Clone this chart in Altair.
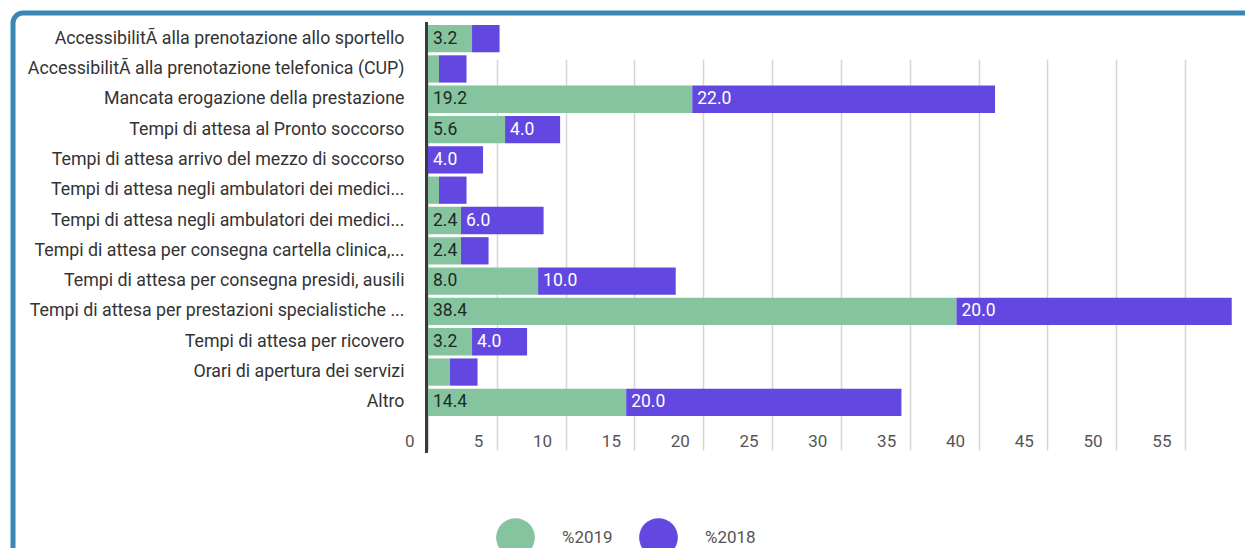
import altair as alt
import pandas as pd

categories = [
    "AccessibilitÃ alla prenotazione allo sportello",
    "AccessibilitÃ alla prenotazione telefonica (CUP)",
    "Mancata erogazione della prestazione",
    "Tempi di attesa al Pronto soccorso",
    "Tempi di attesa arrivo del mezzo di soccorso",
    "Tempi di attesa negli ambulatori dei medici...",
    "Tempi di attesa negli ambulatori dei medici... ",
    "Tempi di attesa per consegna cartella clinica,...",
    "Tempi di attesa per consegna presidi, ausili",
    "Tempi di attesa per prestazioni specialistiche ...",
    "Tempi di attesa per ricovero",
    "Orari di apertura dei servizi",
    "Altro",
]
pct_2019 = [3.2, 0.8, 19.2, 5.6, 0.0, 0.8, 2.4, 2.4, 8.0, 38.4, 3.2, 1.6, 14.4]
pct_2018 = [2.0, 2.0, 22.0, 4.0, 4.0, 2.0, 6.0, 2.0, 10.0, 20.0, 4.0, 2.0, 20.0]
series_names = ["%2019", "%2018"]
series_colors = ["#86c4a0", "#6248e0"]
x_ticks = [0, 5, 10, 15, 20, 25, 30, 35, 40, 45, 50, 55]
baseline_value = [0]

rows = []
for c, a, b in zip(categories, pct_2019, pct_2018):
    rows.append({"cat": c, "series": series_names[0], "value": a, "start": 0.0, "end": a})
    rows.append({"cat": c, "series": series_names[1], "value": b, "start": a, "end": a + b})
df = pd.DataFrame(rows)
df["label"] = df["value"].map(lambda v: f"{v:.1f}")

W, H = 812, 431
FONT = "Roboto"
yscale = alt.Scale(domain=categories, range=[3, 394], paddingInner=0.1, paddingOuter=0)
xscale = alt.Scale(domain=[0, 59], nice=False)

bars = alt.Chart(df).mark_bar().encode(
    y=alt.Y("cat:N", scale=yscale, title=None,
            axis=alt.Axis(domain=False, ticks=False, labelPadding=24, labelLimit=420,
                          labelFontSize=17.8, labelColor="#333333", labelFont=FONT)),
    x=alt.X("start:Q", scale=xscale, title=None,
            axis=alt.Axis(values=x_ticks, domain=False, ticks=False, tickSize=0, offset=-12,
                          labelAlign="right", labelOffset=-14, labelBaseline="middle", labelPadding=0,
                          labelFontSize=17, labelColor="#555555", labelFont=FONT,
                          gridColor="#d6d6d6", gridWidth=1.5)),
    x2="end:Q",
    color=alt.Color("series:N", title=None,
                    scale=alt.Scale(domain=series_names, range=series_colors),
                    legend=alt.Legend(orient="none", legendX=68, legendY=496, direction="horizontal",
                                      symbolType="circle", symbolSize=1500, symbolStrokeWidth=0,
                                      symbolOpacity=1, labelFontSize=17, labelColor="#555555",
                                      labelFont=FONT, labelOffset=27, columnPadding=26)),
)

labels = alt.Chart(df).transform_filter("datum.value >= 2.2").mark_text(
    align="left", baseline="middle", dx=5, fontSize=17.5, font=FONT
).encode(
    y=alt.Y("cat:N", scale=yscale),
    x=alt.X("start:Q", scale=xscale),
    text="label:N",
    color=alt.condition("datum.series === '%2019'", alt.value("#1c2a22"), alt.value("#ffffff")),
)

zero_line = alt.Chart(pd.DataFrame({"v": baseline_value})).mark_rule(
    color="#3a3a3a", strokeWidth=3, xOffset=-1.5
).encode(
    x=alt.X("v:Q", scale=xscale), y=alt.value(0), y2=alt.value(H)
)

frame = alt.Chart(pd.DataFrame({"k": [0]})).mark_rect(
    fillOpacity=0, stroke="#3b87b4", strokeWidth=5, cornerRadius=10
).encode(
    x=alt.value(-415), x2=alt.value(W + 40), y=alt.value(-9), y2=alt.value(H + 200)
)

chart = alt.layer(bars, labels, zero_line, frame).properties(
    width=W, height=H,
    autosize=alt.AutoSizeParams(type="none"),
    padding={"left": 420, "top": 14, "right": 5, "bottom": 95},
    background="white",
).configure(font=FONT).configure_view(stroke="transparent")

chart.save("out.html", embed_options={"renderer": "svg", "actions": False})
